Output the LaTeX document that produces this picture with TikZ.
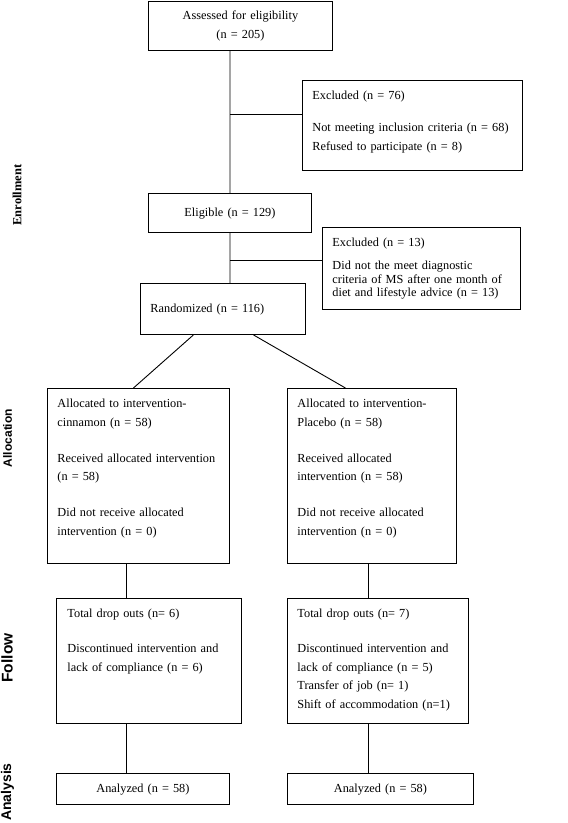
\documentclass[tikz,border=0pt]{standalone}
\usepackage{fontspec}
\setmainfont{Liberation Serif}
\setsansfont{Liberation Sans}
\usepackage{tikz}
\usetikzlibrary{positioning, calc}

\tikzstyle{box}=[%
      rectangle, draw=black, line width=0.9pt, anchor=north west,
      inner ysep=0pt, inner xsep=10pt, align=left,
      font=\fontsize{12.3}{18.7}\selectfont
]
\tikzstyle{cbox}=[%
      box, inner xsep=0pt, align=center
]
\tikzstyle{line}=[%
      draw=black, line width=0.9pt
]
\tikzstyle{phase}=[%
      rotate=90, inner sep=0pt
]

\begin{document}
\begin{tikzpicture}[x=1pt, y=-1pt]
    \useasboundingbox (0,0) rectangle (568,823);

    % enrollment
    \node[cbox, text width=184pt, text height=18pt, text depth=31pt] (assess) at (148,1)
        {Assessed for eligibility\\(n = 205)};
    \node[box, text width=200pt, text height=19pt, text depth=71pt] (excl1) at (302,80)
        {Excluded (n = 76)\\[13.3pt]Not meeting inclusion criteria (n = 68)\\Refused to participate (n = 8)};
    \node[cbox, text width=163pt, text height=23pt, text depth=16pt] (elig) at (148,193)
        {Eligible (n = 129)};
    \node[box, text width=178pt, text height=19pt, text depth=63pt,
          font=\fontsize{12.3}{13.6}\selectfont] (excl2) at (322,227)
        {Excluded (n = 13)\\[9.4pt]Did not the meet diagnostic\\criteria of MS after one month of\\diet and lifestyle advice (n = 13)};
    \node[box, text width=145pt, text height=29pt, text depth=22pt] (rand) at (140,283)
        {Randomized (n = 116)};

    % allocation
    \node[box, text width=162pt, text height=19pt, text depth=156pt] (allocL) at (47,388)
        {Allocated to intervention-\\cinnamon (n = 58)\\[17.3pt]Received allocated intervention\\(n = 58)\\[17.3pt]Did not receive allocated\\intervention (n = 0)};
    \node[box, text width=149pt, text height=19pt, text depth=156pt] (allocR) at (287,388)
        {Allocated to intervention-\\Placebo (n = 58)\\[17.3pt]Received allocated\\intervention (n = 58)\\[17.3pt]Did not receive allocated\\intervention (n = 0)};

    % follow up
    \node[box, inner xsep=11pt, text width=163pt, text height=19pt, text depth=106pt] (followL) at (56,598)
        {Total drop outs (n= 6)\\[16.3pt]Discontinued intervention and\\lack of compliance (n = 6)};
    \node[box, text width=161pt, text height=19pt, text depth=106pt] (followR) at (287,598)
        {Total drop outs (n= 7)\\[16.3pt]Discontinued intervention and\\lack of compliance (n = 5)\\Transfer of job (n= 1)\\Shift of accommodation (n=1)};

    % analysis
    \node[cbox, text width=173pt, text height=19pt, text depth=12pt] (anaL) at (56,773)
        {Analyzed (n = 58)};
    \node[cbox, text width=186pt, text height=19pt, text depth=12pt] (anaR) at (287,773)
        {Analyzed (n = 58)};

    % phase labels
    \node[phase, font=\rmfamily\bfseries\fontsize{12.5}{15}\selectfont] (pEnrol) at (17,195) {Enrollment};
    \node[phase, font=\sffamily\bfseries\fontsize{12}{14}\selectfont] (pAlloc) at (7.5,438) {Allocation};
    \node[phase, font=\sffamily\bfseries\fontsize{15.5}{18}\selectfont] (pFollow) at (7,658) {Follow};
    \node[phase, font=\sffamily\bfseries\fontsize{14}{17}\selectfont] (pAna) at (7.5,792) {Analysis};

    % connectors
    \coordinate (j1) at ([yshift=11pt]excl1.west);
    \coordinate (j2) at ([yshift=8pt]excl2.west);
    \coordinate (sL) at ([xshift=-12pt]allocL.south);
    \coordinate (sR) at ([xshift=-3.5pt]allocR.south);

    \path[line] (elig.north) -- (elig.north |- assess.south)
          (j1) -- (elig.north |- j1)
          (j2) -- (elig.north |- j2)
          (elig.south) -- (elig.south |- rand.north)
          ([xshift=-29.5pt]rand.south) -- ([xshift=-5pt]allocL.north)
          ([xshift=30.5pt]rand.south) -- ([xshift=-26.5pt]allocR.north)
          (sL) -- (sL |- followL.north)
          (sL |- followL.south) -- (sL |- anaL.north)
          (sR) -- (sR |- followR.north)
          (sR |- followR.south) -- (sR |- anaR.north)
    ;

\end{tikzpicture}
\end{document}
